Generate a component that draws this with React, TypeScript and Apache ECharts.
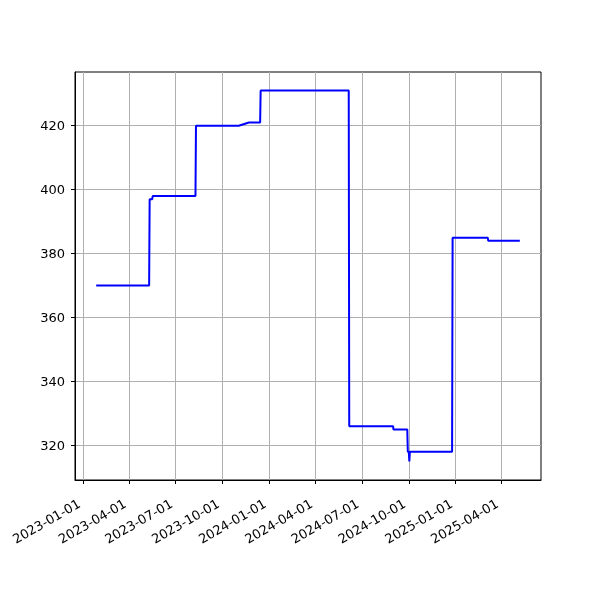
import React, { useEffect, useRef } from "react";
import * as echarts from "echarts";

const dates = [
  "2023-01-26", "2023-05-10", "2023-05-11", "2023-05-16", "2023-05-17",
  "2023-08-09", "2023-08-10", "2023-11-02", "2023-11-22", "2023-12-14",
  "2023-12-15", "2024-06-05", "2024-06-06", "2024-08-31", "2024-09-01",
  "2024-09-28", "2024-09-29", "2024-10-01", "2024-10-02", "2024-10-03",
  "2024-12-25", "2024-12-26", "2025-03-05", "2025-03-06", "2025-05-07",
];
const values = [
  370, 370, 397, 397, 398,
  398, 420, 420, 421, 421,
  431, 431, 326, 326, 325,
  325, 318, 318, 315, 318,
  318, 385, 385, 384, 384,
];
const xTickLabels = [
  "2023-01-01", "2023-04-01", "2023-07-01", "2023-10-01", "2024-01-01",
  "2024-04-01", "2024-07-01", "2024-10-01", "2025-01-01", "2025-04-01",
];
const yTicks = [320, 340, 360, 380, 400, 420];

const ts = (d: string) => Date.parse(d + "T00:00:00Z");

export default function App() {
  const ref = useRef<HTMLDivElement>(null);
  useEffect(() => {
    if (!ref.current) return;
    const chart = echarts.init(ref.current, null, { renderer: "svg" });
    const xs = dates.map(ts);
    const xMinD = Math.min(...xs), xMaxD = Math.max(...xs);
    const xPad = (xMaxD - xMinD) * 0.05;
    const yMinD = Math.min(...values), yMaxD = Math.max(...values);
    const yPad = (yMaxD - yMinD) * 0.05;
    const font = { fontFamily: "DejaVu Sans", fontSize: 13, color: "#000" };
    chart.setOption({
      animation: false,
      grid: {
        left: 75, top: 72, right: 59, bottom: 120,
        show: true, borderColor: "#000", borderWidth: 1, containLabel: false,
      },
      xAxis: {
        type: "value",
        min: xMinD - xPad,
        max: xMaxD + xPad,
        axisLine: { show: true, lineStyle: { color: "#000", width: 1 } },
        axisTick: {
          show: true, length: 4, inside: false,
          lineStyle: { color: "#000", width: 1 },
          customValues: xTickLabels.map(ts),
        },
        axisLabel: {
          ...font,
          rotate: 30,
          margin: 20,
          padding: [0, 5, 0, 0],
          customValues: xTickLabels.map(ts),
          formatter: (v: number) => new Date(v).toISOString().slice(0, 10),
        },
        splitLine: { show: true, lineStyle: { color: "#b0b0b0", width: 1 } },
      },
      yAxis: {
        type: "value",
        min: yMinD - yPad,
        max: yMaxD + yPad,
        axisLine: { show: true, lineStyle: { color: "#000", width: 1 } },
        axisTick: {
          show: true, length: 4, inside: false,
          lineStyle: { color: "#000", width: 1 },
          customValues: yTicks,
        },
        axisLabel: { ...font, margin: 10, customValues: yTicks },
        splitLine: { show: true, lineStyle: { color: "#b0b0b0", width: 1 } },
      },
      series: [
        {
          type: "line",
          data: xs.map((x, i) => [x, values[i]]),
          showSymbol: false,
          lineStyle: { color: "#0000ff", width: 2 },
          itemStyle: { color: "#0000ff" },
        },
      ],
    });
    return () => chart.dispose();
  }, []);
  return (
    <div
      ref={ref}
      style={{ position: "fixed", left: 0, top: 0, width: 600, height: 600 }}
    />
  );
}
